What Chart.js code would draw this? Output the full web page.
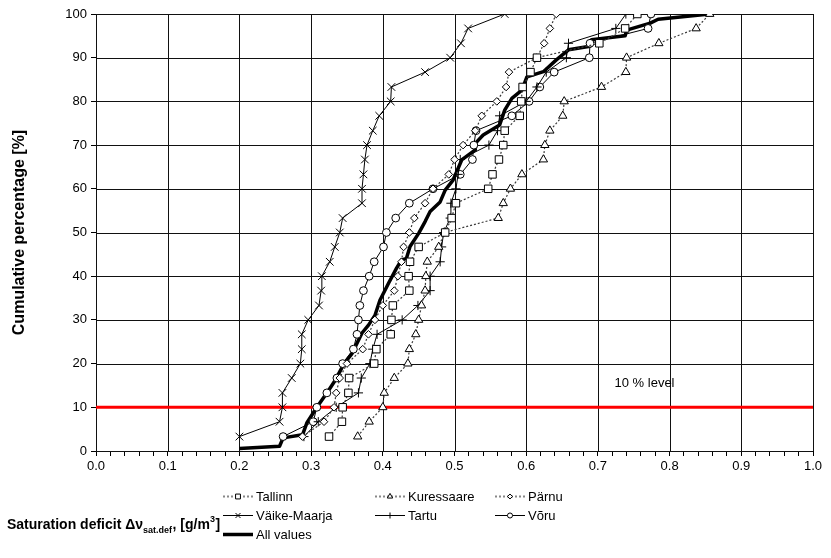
<!DOCTYPE html>
<html>
<head>
<meta charset="utf-8">
<script src="https://cdn.jsdelivr.net/npm/chart.js@4.4.1/dist/chart.umd.min.js"></script>
<style>
  html, body { margin: 0; padding: 0; background: #ffffff; }
  #wrap { width: 831px; height: 558px; }
</style>
</head>
<body>
<div id="wrap"><canvas id="c" width="831" height="558"></canvas></div>
<script>
// Cumulative percentage for each of the 30 ranked values per station
const cumulativePct = [3.3, 6.7, 10.0, 13.3, 16.7, 20.0, 23.3, 26.7, 30.0, 33.3,
  36.7, 40.0, 43.3, 46.7, 50.0, 53.3, 56.7, 60.0, 63.3, 66.7,
  70.0, 73.3, 76.7, 80.0, 83.3, 86.7, 90.0, 93.3, 96.7, 100.0];

// Saturation deficit values (g/m3), sorted, per station
const tallinn = [0.325, 0.343, 0.344, 0.352, 0.353, 0.388, 0.391, 0.411, 0.412, 0.414,
  0.437, 0.436, 0.438, 0.450, 0.487, 0.496, 0.502, 0.547, 0.553, 0.562,
  0.568, 0.570, 0.591, 0.593, 0.595, 0.606, 0.615, 0.702, 0.738, 0.755];
const kuressaare = [0.365, 0.381, 0.400, 0.402, 0.416, 0.435, 0.437, 0.446, 0.450, 0.454,
  0.459, 0.460, 0.462, 0.478, 0.486, 0.561, 0.568, 0.578, 0.594, 0.624,
  0.626, 0.633, 0.651, 0.653, 0.705, 0.739, 0.740, 0.785, 0.837, 0.856];
const parnu = [0.288, 0.318, 0.332, 0.335, 0.340, 0.350, 0.372, 0.380, 0.389, 0.400,
  0.416, 0.421, 0.426, 0.429, 0.437, 0.444, 0.459, 0.470, 0.492, 0.500,
  0.512, 0.529, 0.538, 0.559, 0.572, 0.576, 0.615, 0.625, 0.633, 0.642];
const vaikeMaarja = [0.200, 0.256, 0.260, 0.260, 0.273, 0.285, 0.287, 0.287, 0.296, 0.311,
  0.314, 0.315, 0.326, 0.333, 0.340, 0.344, 0.371, 0.371, 0.373, 0.375,
  0.378, 0.386, 0.395, 0.411, 0.412, 0.459, 0.494, 0.509, 0.519, 0.570];
const tartu = [0.290, 0.310, 0.335, 0.366, 0.370, 0.382, 0.386, 0.392, 0.427, 0.449,
  0.466, 0.466, 0.480, 0.482, 0.485, 0.494, 0.495, 0.502, 0.505, 0.508,
  0.548, 0.560, 0.563, 0.600, 0.615, 0.628, 0.656, 0.659, 0.725, 0.739];
const voru = [0.261, 0.303, 0.308, 0.322, 0.336, 0.344, 0.359, 0.364, 0.366, 0.368,
  0.373, 0.381, 0.388, 0.401, 0.405, 0.418, 0.437, 0.470, 0.508, 0.525,
  0.527, 0.530, 0.580, 0.604, 0.619, 0.639, 0.688, 0.689, 0.770, 0.774];

// Pooled distribution of all stations
const allValuesX = [0.200, 0.256, 0.261, 0.288, 0.294, 0.308, 0.322, 0.333, 0.346, 0.357,
  0.362, 0.371, 0.380, 0.389, 0.396, 0.408, 0.419, 0.426, 0.433, 0.438,
  0.450, 0.459, 0.466, 0.480, 0.487, 0.498, 0.502, 0.510, 0.529, 0.529,
  0.540, 0.563, 0.570, 0.580, 0.594, 0.601, 0.624, 0.642, 0.659, 0.689,
  0.691, 0.738, 0.740, 0.773, 0.784, 0.856];
const allValuesPct = [0.6, 1.1, 3.0, 3.7, 6.4, 10.0, 13.3, 16.0, 20.0, 22.3,
  24.0, 27.0, 28.8, 31.0, 34.5, 38.4, 41.8, 43.7, 44.1, 46.8,
  49.8, 52.5, 54.8, 57.0, 59.7, 62.0, 63.5, 66.6, 68.9, 70.4,
  72.3, 74.6, 78.0, 80.7, 82.6, 85.6, 86.8, 89.5, 91.8, 92.6,
  94.1, 95.0, 96.3, 97.9, 98.8, 100.0];

// Reference level line
const levelPct = 10;
const levelLineX = [0, 1];
const levelLabelPos = [0.765, 15.5];

const xTickLabels = ['0.0', '0.1', '0.2', '0.3', '0.4', '0.5', '0.6', '0.7', '0.8', '0.9', '1.0'];
const yTickLabels = ['0', '10', '20', '30', '40', '50', '60', '70', '80', '90', '100'];

const FONT = '"Liberation Sans", Arial, sans-serif';

function pts(xs, ys) { return xs.map((x, i) => ({ x: x, y: ys[i] })); }

const dotted = { borderColor: '#3a3a3a', borderWidth: 1.2, borderDash: [2, 2] };
const solid = { borderColor: '#000000', borderWidth: 1, borderDash: [] };
const marker = { pointBackgroundColor: '#ffffff', pointBorderColor: '#000000', pointBorderWidth: 1 };

const datasets = [
  Object.assign({ label: 'Tallinn', data: pts(tallinn, cumulativePct), pointStyle: 'rect', pointRadius: 5.3 }, dotted, marker),
  Object.assign({ label: 'Kuressaare', data: pts(kuressaare, cumulativePct), pointStyle: 'triangle', pointRadius: 4.8 }, dotted, marker),
  Object.assign({ label: 'Pärnu', data: pts(parnu, cumulativePct), pointStyle: 'rectRot', pointRadius: 3.8 }, dotted, marker),
  Object.assign({ label: 'Väike-Maarja', data: pts(vaikeMaarja, cumulativePct), pointStyle: 'crossRot', pointRadius: 5.4 }, solid, marker),
  Object.assign({ label: 'Tartu', data: pts(tartu, cumulativePct), pointStyle: 'cross', pointRadius: 4.6 }, solid, marker),
  Object.assign({ label: 'Võru', data: pts(voru, cumulativePct), pointStyle: 'circle', pointRadius: 3.9 }, solid, marker),
  { label: 'All values', data: pts(allValuesX, allValuesPct), borderColor: '#000000', borderWidth: 3.5, pointRadius: 0, borderJoinStyle: 'round' },
  { label: 'level', data: pts(levelLineX, [levelPct, levelPct]), borderColor: '#ff0000', borderWidth: 3, pointRadius: 0 }
];
datasets.forEach(d => { d.showLine = true; d.tension = 0; d.fill = false; });

// Legend layout: [dataset index, column, row]
const legendSlots = [[0, 0, 0], [1, 1, 0], [2, 2, 0], [3, 0, 1], [4, 1, 1], [5, 2, 1], [6, 0, 2]];
const legendColX = [256, 408, 528];
const legendRowY = [496, 515, 534];

// Major grid lines across the plot area, placed from the tick label values
const gridPlugin = {
  id: 'majorGrid',
  beforeDatasetsDraw(chart) {
    const ctx = chart.ctx, a = chart.chartArea;
    const xs = chart.scales.x, ys = chart.scales.y;
    ctx.save();
    ctx.strokeStyle = '#111';
    ctx.lineWidth = 1;
    ctx.beginPath();
    xTickLabels.forEach(t => {
      const px = Math.round(xs.getPixelForValue(parseFloat(t))) + 0.5;
      ctx.moveTo(px, a.top); ctx.lineTo(px, a.bottom);
    });
    yTickLabels.forEach(t => {
      const py = Math.round(ys.getPixelForValue(parseFloat(t))) + 0.5;
      ctx.moveTo(a.left, py); ctx.lineTo(a.right, py);
    });
    ctx.stroke();
    ctx.restore();
  }
};

const overlayPlugin = {
  id: 'overlay',
  afterDraw(chart) {
    const ctx = chart.ctx;
    const xs = chart.scales.x, ys = chart.scales.y;
    ctx.save();

    // level label
    ctx.fillStyle = '#000';
    ctx.font = '13px ' + FONT;
    ctx.textAlign = 'center';
    ctx.textBaseline = 'middle';
    ctx.fillText(levelPct + ' % level', xs.getPixelForValue(levelLabelPos[0]), ys.getPixelForValue(levelLabelPos[1]));

    // x-axis title with subscript and superscript
    ctx.textAlign = 'left';
    ctx.textBaseline = 'alphabetic';
    let x = 7; const base = 529;
    const parts = [
      ['Saturation deficit \u0394\u03bd', 'bold 14px ', 0],
      ['sat.def', 'bold 9px ', 4],
      [', [g/m', 'bold 14px ', 0],
      ['3', 'bold 9px ', -7],
      [']', 'bold 14px ', 0]
    ];
    parts.forEach(p => {
      ctx.font = p[1] + FONT;
      ctx.fillText(p[0], x, base + p[2]);
      x += ctx.measureText(p[0]).width + (p[2] !== 0 ? 0.5 : 0);
    });

    // legend
    legendSlots.forEach(s => {
      const ds = chart.data.datasets[s[0]];
      const tx = legendColX[s[1]], ty = legendRowY[s[2]];
      const x0 = tx - 33, x1 = tx - 3;
      ctx.save();
      ctx.strokeStyle = ds.borderDash && ds.borderDash.length ? '#888' : ds.borderColor;
      ctx.lineWidth = ds.borderDash && ds.borderDash.length ? 2 : ds.borderWidth;
      ctx.setLineDash(ds.borderDash || []);
      ctx.beginPath();
      ctx.moveTo(x0, ty + 0.5);
      ctx.lineTo(x1, ty + 0.5);
      ctx.stroke();
      ctx.setLineDash([]);
      if (ds.pointRadius > 0) {
        ctx.fillStyle = '#ffffff';
        ctx.strokeStyle = '#000000';
        ctx.lineWidth = 1;
        Chart.helpers.drawPoint(ctx, { pointStyle: ds.pointStyle, radius: ds.pointRadius * 0.65, rotation: 0, borderWidth: 1 }, (x0 + x1) / 2, ty + 0.5);
      }
      ctx.restore();
      ctx.fillStyle = '#000';
      ctx.font = '13px ' + FONT;
      ctx.textAlign = 'left';
      ctx.textBaseline = 'middle';
      ctx.fillText(ds.label, tx, ty + 1);
    });
    ctx.restore();
  }
};

new Chart(document.getElementById('c'), {
  type: 'scatter',
  data: { datasets: datasets },
  options: {
    responsive: false,
    animation: false,
    devicePixelRatio: 1,
    layout: { padding: { top: 14, right: 18, left: 0, bottom: 0 } },
    plugins: { legend: { display: false }, tooltip: { enabled: false } },
    scales: {
      x: {
        type: 'linear', min: 0, max: 1,
        afterFit(s) { s.height = 107; },
        ticks: {
          stepSize: 0.02, autoSkip: false, maxRotation: 0, padding: 3,
          color: '#000', font: { family: FONT, size: 13 },
          callback(v) {
            const i = Math.round(v * 50);
            return i % 5 === 0 ? xTickLabels[i / 5] : '';
          }
        },
        grid: { drawOnChartArea: false, color: '#000', tickColor: '#000', tickLength: 5, lineWidth: 1, drawTicks: true },
        border: { display: true, color: '#000', width: 1 }
      },
      y: {
        type: 'linear', min: 0, max: 100,
        afterFit(s) { s.width = 96; },
        title: {
          display: true, text: 'Cumulative percentage [%]', color: '#000',
          font: { family: FONT, size: 16, weight: 'bold' }, padding: { top: 10, bottom: 0 }
        },
        ticks: {
          stepSize: 10, padding: 4, color: '#000', font: { family: FONT, size: 13 },
          callback(v) { return yTickLabels[Math.round(v / 10)]; }
        },
        grid: { drawOnChartArea: false, color: '#000', tickColor: '#000', tickLength: 5, lineWidth: 1 },
        border: { display: true, color: '#000', width: 1 }
      }
    }
  },
  plugins: [gridPlugin, overlayPlugin]
});
</script>
</body>
</html>
